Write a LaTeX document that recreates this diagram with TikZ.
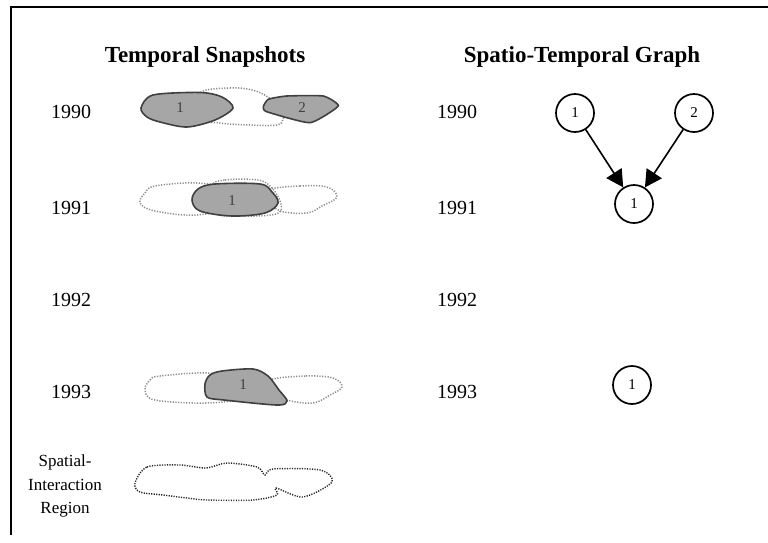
\documentclass[tikz,border=0pt]{standalone}
\usepackage{fontspec}
\setmainfont{Liberation Serif}
\usetikzlibrary{arrows.meta}
\begin{document}
\begin{tikzpicture}[x=1pt,y=-1pt,
  hdr/.style={font=\bfseries\fontsize{23}{26}\selectfont},
  yr/.style={font=\fontsize{20}{24}\selectfont},
  st/.style={circle,draw,line width=1.7pt,minimum size=38pt,inner sep=0pt,font=\fontsize{15}{18}\selectfont},
  blob/.style={fill=black!35,draw=black!75,line width=1.6pt},
  ghost/.style={draw=black!45,line width=1.5pt,dash pattern=on 1.2pt off 1.5pt},
  region/.style={draw=black!85,line width=1.4pt,dash pattern=on 1.2pt off 1.3pt},
  lbl/.style={font=\fontsize{15}{17}\selectfont,text=black!75},
  side/.style={font=\fontsize{17}{23.5}\selectfont,align=center},
  arr/.style={line width=1.6pt,-{Triangle[length=17pt,width=18pt]}}
]
\useasboundingbox[fill=white] (0,0) rectangle (768,542);
\draw[line width=1.5pt] (11,535) -- (11,7) -- (768,7);

% headers
\node[hdr] (h1) at (205,57) {Temporal Snapshots};
\node[hdr] (h2) at (582,57) {Spatio-Temporal Graph};

% year labels
\node[yr] (l90) at (71,112) {1990};
\node[yr] (l91) at (71,208) {1991};
\node[yr] (l92) at (71,300) {1992};
\node[yr] (l93) at (71,392) {1993};
\node[yr] (r90) at (457,112) {1990};
\node[yr] (r91) at (457,208) {1991};
\node[yr] (r92) at (457,300) {1992};
\node[yr] (r93) at (457,392) {1993};

% 1990 snapshot
\draw[ghost] plot[smooth cycle,tension=0.6] coordinates {(200,93) (230,88) (252,90) (268,97) (283,110) (283,119) (277,125) (250,125) (220,123) (200,118)};
\draw[blob] plot[smooth cycle,tension=0.5] coordinates {(153,95) (200,92.5) (222,97) (233,108) (215,120) (187,127) (160,122) (147,117) (141,108)};
\draw[blob] plot[smooth cycle,tension=0.3] coordinates {(263.3,106.7) (268.3,99.3) (286.7,96) (323.3,96) (338.3,106) (310,122.7) (266.7,111.7)};
\node[lbl] (b90a) at (180,108) {1};
\node[lbl] (b90b) at (302,108) {2};

% 1991 snapshot
\draw[ghost] plot[smooth cycle,tension=0.6] coordinates {(140,203) (145,193) (155,186) (197,183) (235,190) (238,205) (197,215) (155,211)};
\draw[ghost] plot[smooth cycle,tension=0.6] coordinates {(266,190) (300,186) (327,187) (337,197) (322,206) (307,213) (280,211) (270,200)};
\draw[ghost] plot[smooth cycle,tension=0.6] coordinates {(212,186) (225,180) (258,180) (272,188) (281,204) (276,214) (240,216) (212,212)};
\draw[blob] plot[smooth cycle,tension=0.55] coordinates {(192,200) (198,189) (215,184) (260,184) (272,192) (278,203) (265,213) (232,216) (200,211)};
\node[lbl] (b91) at (232,201) {1};

% 1993 snapshot
\draw[ghost] plot[smooth cycle,tension=0.6] coordinates {(145,390) (150,380) (160,376) (207,373) (238,380) (238,398) (205,403) (155,400)};
\draw[ghost] plot[smooth cycle,tension=0.6] coordinates {(270,380) (306,376) (333,378) (342,387) (330,395) (313,403) (287,400) (275,392)};
\draw[blob] plot[smooth cycle,tension=0.5] coordinates {(205,384) (210,375) (222,371) (253,369) (268,376) (279,390) (287,401) (277,405) (224,400) (207,397)};
\node[lbl] (b93) at (243,385) {1};

% spatial-interaction region
\node[side] (sir) at (65,486) {Spatial-\\Interaction\\Region};
\draw[region] plot[smooth cycle,tension=0.5] coordinates {(135,483) (147,467) (180,465) (206,468) (227,463) (257,467) (265,475) (273,469) (320,470) (332,482) (303,497) (276,488) (277,495) (253,500) (207,500) (187,498) (163,495) (140,492)};

% spatio-temporal graph
\node[st] (a1) at (575,113) {1};
\node[st] (a2) at (694,113) {2};
\node[st] (b1) at (634,204) {1};
\node[st] (c1) at (632,385) {1};
\draw[arr] (a1) -- (b1);
\draw[arr] (a2) -- (b1);
\end{tikzpicture}
\end{document}
